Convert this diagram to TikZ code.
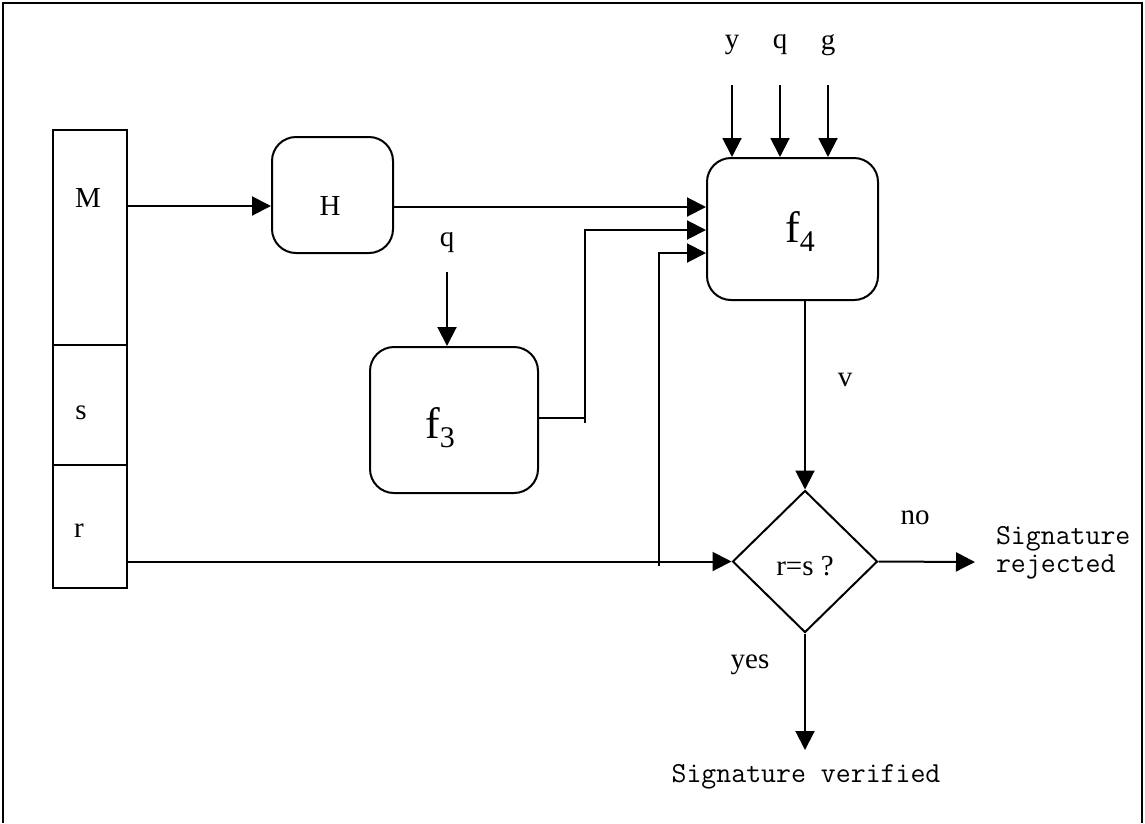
\documentclass[tikz,border=0pt]{standalone}
\usepackage{fontspec}
\setmainfont{Liberation Serif}
\usetikzlibrary{arrows.meta,shapes.geometric}
\begin{document}
\begin{tikzpicture}[x=1pt,y=-1pt,
  line width=2pt,
  arr/.style={-{Triangle[length=19pt,width=19pt]}},
  cell/.style={draw,rectangle,minimum width=74pt,inner sep=0},
  fbox/.style={draw,rounded corners=24pt,inner sep=0},
  lbl/.style={font=\fontsize{29}{32}\selectfont,inner sep=0},
  flbl/.style={font=\fontsize{44}{48}\selectfont,inner sep=0},
  mono/.style={font=\ttfamily\fontsize{29}{28}\selectfont,inner sep=0},
]
\useasboundingbox (0,0) rectangle (1145,823);
% frame
\draw (3,823) -- (3,3) -- (1142,3) -- (1142,823);

% message bar
\node[cell,minimum height=215pt] (cellM) at (90,237.5) {};
\node[cell,minimum height=120pt] (cellS) at (90,405) {};
\node[cell,minimum height=123pt] (cellR) at (90,526.5) {};
\node[lbl] (tM) at (88,198) {M};
\node[lbl] (tS) at (81,413) {s};
\node[lbl] (tR) at (79,531) {r};

% boxes
\node[fbox,minimum width=121pt,minimum height=116pt] (H) at (332.5,195) {};
\node[lbl] (tH) at (330,206) {H};
\node[fbox,minimum width=171pt,minimum height=142pt] (f4) at (792.5,229) {};
\node[flbl] (tf4) at (800,232) {f\raisebox{-9pt}{\fontsize{30}{30}\selectfont 4}};
\node[fbox,minimum width=168pt,minimum height=146pt] (f3) at (454,420) {};
\node[flbl] (tf3) at (440,428) {f\raisebox{-9pt}{\fontsize{30}{30}\selectfont 3}};
\node[draw,shape=diamond,minimum width=145pt,minimum height=142pt,inner sep=0] (dia) at (805,561.5) {};
\node[lbl] (tdia) at (805,566) {r=s ?};

% input labels
\node[lbl] (lq3) at (447,243) {q};
\node[lbl] (ly) at (732,45) {y};
\node[lbl] (lq) at (780,45) {q};
\node[lbl] (lg) at (828,45) {g};
\node[lbl] (lv) at (845,380) {v};
\node[lbl] (lno) at (915,518) {no};
\node[lbl] (lyes) at (750,665) {yes};
\node[mono,anchor=west,align=left] (rej) at (995,553) {Signature\\rejected};
\node[mono] (ver) at (806,777) {Signature verified};

% connectors
\draw[arr] (cellM.east |- 0,206) -- (H.west |- 0,206);
\draw[arr] (H.east |- 0,207) -- (f4.west |- 0,207);
\coordinate (j1) at (585,418);
\draw (f3.east |- j1) -- (j1);
\draw[arr] (585,423) -- (585,230) -- (f4.west |- 0,230);
\draw[arr] (cellR.east |- dia.west) -- (dia.west);
\draw[arr] (659,566) -- (659,253) -- (f4.west |- 0,253);
\draw[arr] (lq3 |- 0,272) -- (lq3 |- f3.north);
\draw[arr] (ly |- 0,85) -- (ly |- f4.north);
\draw[arr] (lq |- 0,85) -- (lq |- f4.north);
\draw[arr] (lg |- 0,85) -- (lg |- f4.north);
\draw[arr] (dia.north |- f4.south) -- (dia.north);
\coordinate (rejTip) at (975,562);
\draw[arr] (dia.east) -- (rejTip);
\coordinate (verTip) at (805,750);
\draw[arr] (dia.south) -- (verTip);
\end{tikzpicture}
\end{document}
